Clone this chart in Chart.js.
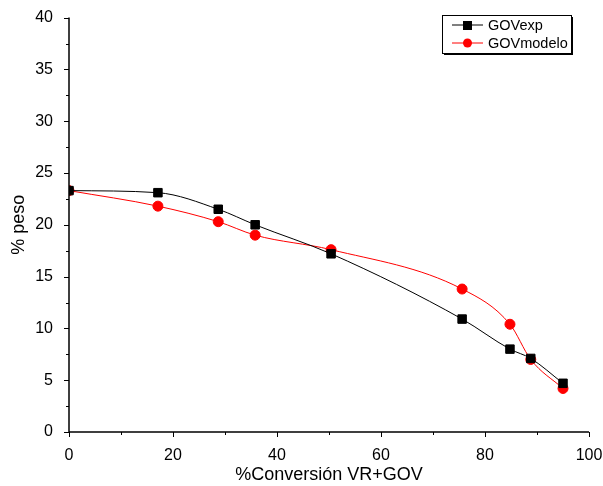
<!DOCTYPE html>
<html>
<head>
    <title>GOV</title>
    <script src="https://cdn.jsdelivr.net/npm/chart.js"></script>
    <style>
        body { margin: 0; background: #fff; }
        #wrap { width: 603px; height: 486px; }
    </style>
</head>
<body>
    <div id="wrap"><canvas id="myChart"></canvas></div>

    <script>
        // conversion (%) values shared by both series
        const conversion = [0, 17.1, 28.7, 35.8, 50.4, 75.6, 84.8, 88.8, 95.0];
        const govExp = [23.3, 23.1, 21.5, 20.0, 17.2, 10.9, 8.0, 7.1, 4.7];
        const govModelo = [23.3, 21.8, 20.3, 19.0, 17.6, 13.8, 10.4, 7.0, 4.2];
        const seriesNames = ['GOVexp', 'GOVmodelo'];

        const toPoints = (xs, ys) => xs.map((x, i) => ({ x: x, y: ys[i] }));
        const FONT = 'Liberation Sans, Arial, sans-serif';

        // outward major/minor ticks like the original plot
        const tickPlugin = {
            id: 'ticks',
            afterDraw(chart) {
                const ctx = chart.ctx;
                const xs = chart.scales.x, ys = chart.scales.y;
                const area = chart.chartArea;
                ctx.save();
                ctx.strokeStyle = '#000';
                ctx.lineWidth = 1.5;
                ctx.beginPath();
                ctx.moveTo(area.left, area.top);
                ctx.lineTo(area.left, area.bottom);
                ctx.lineTo(area.right, area.bottom);
                ctx.stroke();
                ctx.lineWidth = 1;
                for (let v = 0; v <= 100; v += 10) {
                    const px = Math.round(xs.getPixelForValue(v)) + 0.5;
                    const len = v % 20 === 0 ? 5 : 3;
                    ctx.beginPath();
                    ctx.moveTo(px, area.bottom);
                    ctx.lineTo(px, area.bottom + len);
                    ctx.stroke();
                }
                for (let v = 0; v <= 40; v += 2.5) {
                    const py = Math.round(ys.getPixelForValue(v)) + 0.5;
                    const len = v % 5 === 0 ? 5 : 3;
                    ctx.beginPath();
                    ctx.moveTo(area.left - len, py);
                    ctx.lineTo(area.left, py);
                    ctx.stroke();
                }
                ctx.restore();
            }
        };

        // boxed legend in the upper right corner
        const legendPlugin = {
            id: 'boxLegend',
            afterDraw(chart) {
                const ctx = chart.ctx;
                const x0 = 442, y0 = 15, w = 129, h = 38;
                ctx.save();
                ctx.fillStyle = '#000';
                ctx.fillRect(x0 + 2, y0 + 2, w, h);
                ctx.fillStyle = '#fff';
                ctx.fillRect(x0, y0, w, h);
                ctx.strokeStyle = '#000';
                ctx.lineWidth = 1;
                ctx.strokeRect(x0 + 0.5, y0 + 0.5, w, h);
                chart.data.datasets.forEach((ds, i) => {
                    const y = y0 + 10 + i * 18;
                    ctx.strokeStyle = ds.borderColor;
                    ctx.beginPath();
                    ctx.moveTo(452, y);
                    ctx.lineTo(483, y);
                    ctx.stroke();
                    ctx.fillStyle = ds.pointBackgroundColor;
                    if (ds.pointStyle === 'rect') {
                        ctx.fillRect(463, y - 4, 9, 9);
                    } else {
                        ctx.beginPath();
                        ctx.arc(467.5, y, 4.5, 0, Math.PI * 2);
                        ctx.fill();
                    }
                    ctx.fillStyle = '#000';
                    ctx.font = '14.5px ' + FONT;
                    ctx.textBaseline = 'middle';
                    ctx.fillText(ds.label, 488, y + 1);
                });
                ctx.restore();
            }
        };

        let ctx = document.getElementById('myChart').getContext('2d');
        new Chart(ctx, {
            type: 'line',
            data: {
                datasets: [{
                    label: seriesNames[0],
                    data: toPoints(conversion, govExp),
                    borderColor: '#000',
                    backgroundColor: '#000',
                    pointBackgroundColor: '#000',
                    pointBorderColor: '#000',
                    pointStyle: 'rect',
                    pointRadius: 6,
                    borderWidth: 1,
                    cubicInterpolationMode: 'monotone'
                }, {
                    label: seriesNames[1],
                    data: toPoints(conversion, govModelo),
                    borderColor: '#ff0000',
                    backgroundColor: '#ff0000',
                    pointBackgroundColor: '#ff0000',
                    pointBorderColor: '#ff0000',
                    pointStyle: 'circle',
                    pointRadius: 5,
                    borderWidth: 1,
                    cubicInterpolationMode: 'monotone'
                }]
            },
            options: {
                responsive: true,
                maintainAspectRatio: false,
                animation: false,
                layout: { padding: { left: 0, top: 15, right: 14, bottom: 0 } },
                plugins: {
                    legend: { display: false },
                    tooltip: { enabled: false }
                },
                scales: {
                    x: {
                        type: 'linear',
                        min: 0,
                        max: 100,
                        afterFit: s => { s.height = 54; s.paddingRight = 0; s.paddingLeft = 0; },
                        border: { display: false },
                        grid: { display: false },
                        ticks: {
                            stepSize: 20,
                            color: '#000',
                            padding: 6,
                            font: { family: FONT, size: 16 }
                        },
                        title: {
                            display: true,
                            text: '%Conversión VR+GOV',
                            color: '#000',
                            padding: { top: 0, bottom: 0 },
                            font: { family: FONT, size: 18 }
                        }
                    },
                    y: {
                        min: 0,
                        max: 40,
                        afterFit: s => { s.width = 69; },
                        border: { display: false },
                        grid: { display: false },
                        ticks: {
                            stepSize: 5,
                            color: '#000',
                            padding: 8,
                            font: { family: FONT, size: 16 }
                        },
                        title: {
                            display: true,
                            text: '% peso',
                            color: '#000',
                            padding: { top: 8, bottom: 0 },
                            font: { family: FONT, size: 18 }
                        }
                    }
                }
            },
            plugins: [tickPlugin, legendPlugin]
        });
    </script>
</body>
</html>
